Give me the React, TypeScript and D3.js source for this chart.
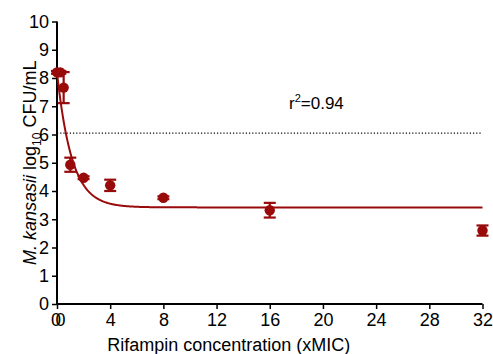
import React, { useEffect, useRef } from 'react';
import * as d3 from 'd3';

// concentration (xMIC), mean log10 CFU/mL, SEM
const concentrations = [0, 0.25, 0.5, 1, 2, 4, 8, 16, 32];
const meanLogCfu = [8.2, 8.2, 7.66, 4.93, 4.47, 4.2, 3.76, 3.32, 2.6];
const errLogCfu = [0.05, 0.05, 0.55, 0.25, 0.05, 0.2, 0.05, 0.26, 0.18];

// one-phase decay fit
const fitTop = 8.2;
const fitPlateau = 3.42;
const fitK = 0.9;
const rSquared = '0.94';
const thresholdLine = 6.05;

const xTicks = [0, 4, 8, 12, 16, 20, 24, 28, 32];
const yTicks = [0, 1, 2, 3, 4, 5, 6, 7, 8, 9, 10];

const RED = '#990a0a';

const App = () => {
  const ref = useRef<SVGSVGElement>(null);

  useEffect(() => {
    document.body.style.margin = '0';
    const width = 493;
    const height = 354;
    const margin = { top: 21.5, right: 10.5, bottom: 50, left: 57 };

    const svg = d3.select(ref.current)
      .attr('width', width)
      .attr('height', height);
    svg.selectAll('*').remove();

    const x = d3.scaleLinear().domain([0, 32]).range([margin.left, width - margin.right]);
    const y = d3.scaleLinear().domain([0, 10]).range([height - margin.bottom, margin.top]);

    const font = "'Liberation Sans', Arial, sans-serif";
    const fs = 18;

    // y axis
    const yAxis = svg.append('g')
      .attr('transform', `translate(${x(0)},0)`)
      .call(d3.axisLeft(y).tickValues(yTicks).tickSize(5).tickPadding(3).tickFormat(d3.format('d')));
    yAxis.select('.domain').attr('stroke', '#000').attr('stroke-width', 2).attr('d', `M0,${y(10)}V${y(0)}`);
    yAxis.selectAll('.tick line').attr('stroke-width', 1.5);
    yAxis.selectAll('.tick text').attr('font-family', font).attr('font-size', fs).attr('fill', '#000');

    // x axis
    const xAxis = svg.append('g')
      .attr('transform', `translate(0,${y(0)})`)
      .call(d3.axisBottom(x).tickValues(xTicks).tickSize(5).tickPadding(4).tickFormat(d3.format('d')));
    xAxis.select('.domain').attr('stroke', '#000').attr('stroke-width', 2).attr('d', `M${x(0)},0H${x(32)}`);
    xAxis.selectAll('.tick line').attr('stroke-width', 1.5);
    xAxis.selectAll('.tick text').attr('font-family', font).attr('font-size', fs).attr('fill', '#000');
    // the doubled "0" at the origin
    xAxis.append('text')
      .attr('x', x(0) + 3.5)
      .attr('y', 9)
      .attr('dy', '0.71em')
      .attr('text-anchor', 'middle')
      .attr('font-family', font)
      .attr('font-size', fs)
      .attr('fill', '#000')
      .text('0');
    xAxis.select('.tick text').attr('dx', -1.5);

    // axis titles
    svg.append('text')
      .attr('x', (x(0) + x(32)) / 2 - 41)
      .attr('y', 351)
      .attr('text-anchor', 'middle')
      .attr('font-family', font)
      .attr('font-size', fs)
      .text('Rifampin concentration (xMIC)');

    const yt = svg.append('text')
      .attr('transform', `translate(36,${(y(0) + y(10)) / 2}) rotate(-90)`)
      .attr('text-anchor', 'middle')
      .attr('font-family', font)
      .attr('font-size', fs);
    yt.append('tspan').attr('font-style', 'italic').text('M. kansasii');
    yt.append('tspan').text(' log');
    yt.append('tspan').attr('font-size', 12).attr('dy', 5).text('10');
    yt.append('tspan').attr('dy', -5).text(' CFU/mL');

    // dotted threshold line
    svg.append('line')
      .attr('x1', x(0))
      .attr('x2', x(32))
      .attr('y1', y(thresholdLine))
      .attr('y2', y(thresholdLine))
      .attr('stroke', '#000')
      .attr('stroke-width', 1.2)
      .attr('stroke-dasharray', '1.2,2');

    // r squared
    const rt = svg.append('text')
      .attr('x', 289)
      .attr('y', 109)
      .attr('font-family', font)
      .attr('font-size', 17);
    rt.append('tspan').text('r');
    rt.append('tspan').attr('font-size', 11).attr('dy', -7).text('2');
    rt.append('tspan').attr('dy', 7).text(`=${rSquared}`);

    // fitted curve
    const curveX = d3.range(0, 32.001, 0.05);
    const line = d3.line<number>()
      .x(d => x(d))
      .y(d => y(fitPlateau + (fitTop - fitPlateau) * Math.exp(-fitK * d)));
    svg.append('path')
      .datum(curveX)
      .attr('d', line)
      .attr('fill', 'none')
      .attr('stroke', RED)
      .attr('stroke-width', 2);

    // error bars
    const pts = concentrations.map((c, i) => ({ c, m: meanLogCfu[i], e: errLogCfu[i] }));
    const eb = svg.append('g').attr('stroke', RED).attr('stroke-width', 2.2);
    pts.forEach(p => {
      eb.append('line').attr('x1', x(p.c)).attr('x2', x(p.c)).attr('y1', y(p.m + p.e)).attr('y2', y(p.m - p.e));
      [p.m + p.e, p.m - p.e].forEach(v => {
        eb.append('line').attr('x1', x(p.c) - 6).attr('x2', x(p.c) + 6).attr('y1', y(v)).attr('y2', y(v));
      });
    });

    // points
    svg.append('g')
      .selectAll('circle')
      .data(pts)
      .enter()
      .append('circle')
      .attr('cx', d => x(d.c))
      .attr('cy', d => y(d.m))
      .attr('r', 5.2)
      .attr('fill', RED);
  }, []);

  return <svg ref={ref} style={{ display: 'block' }} />;
};

export default App;
